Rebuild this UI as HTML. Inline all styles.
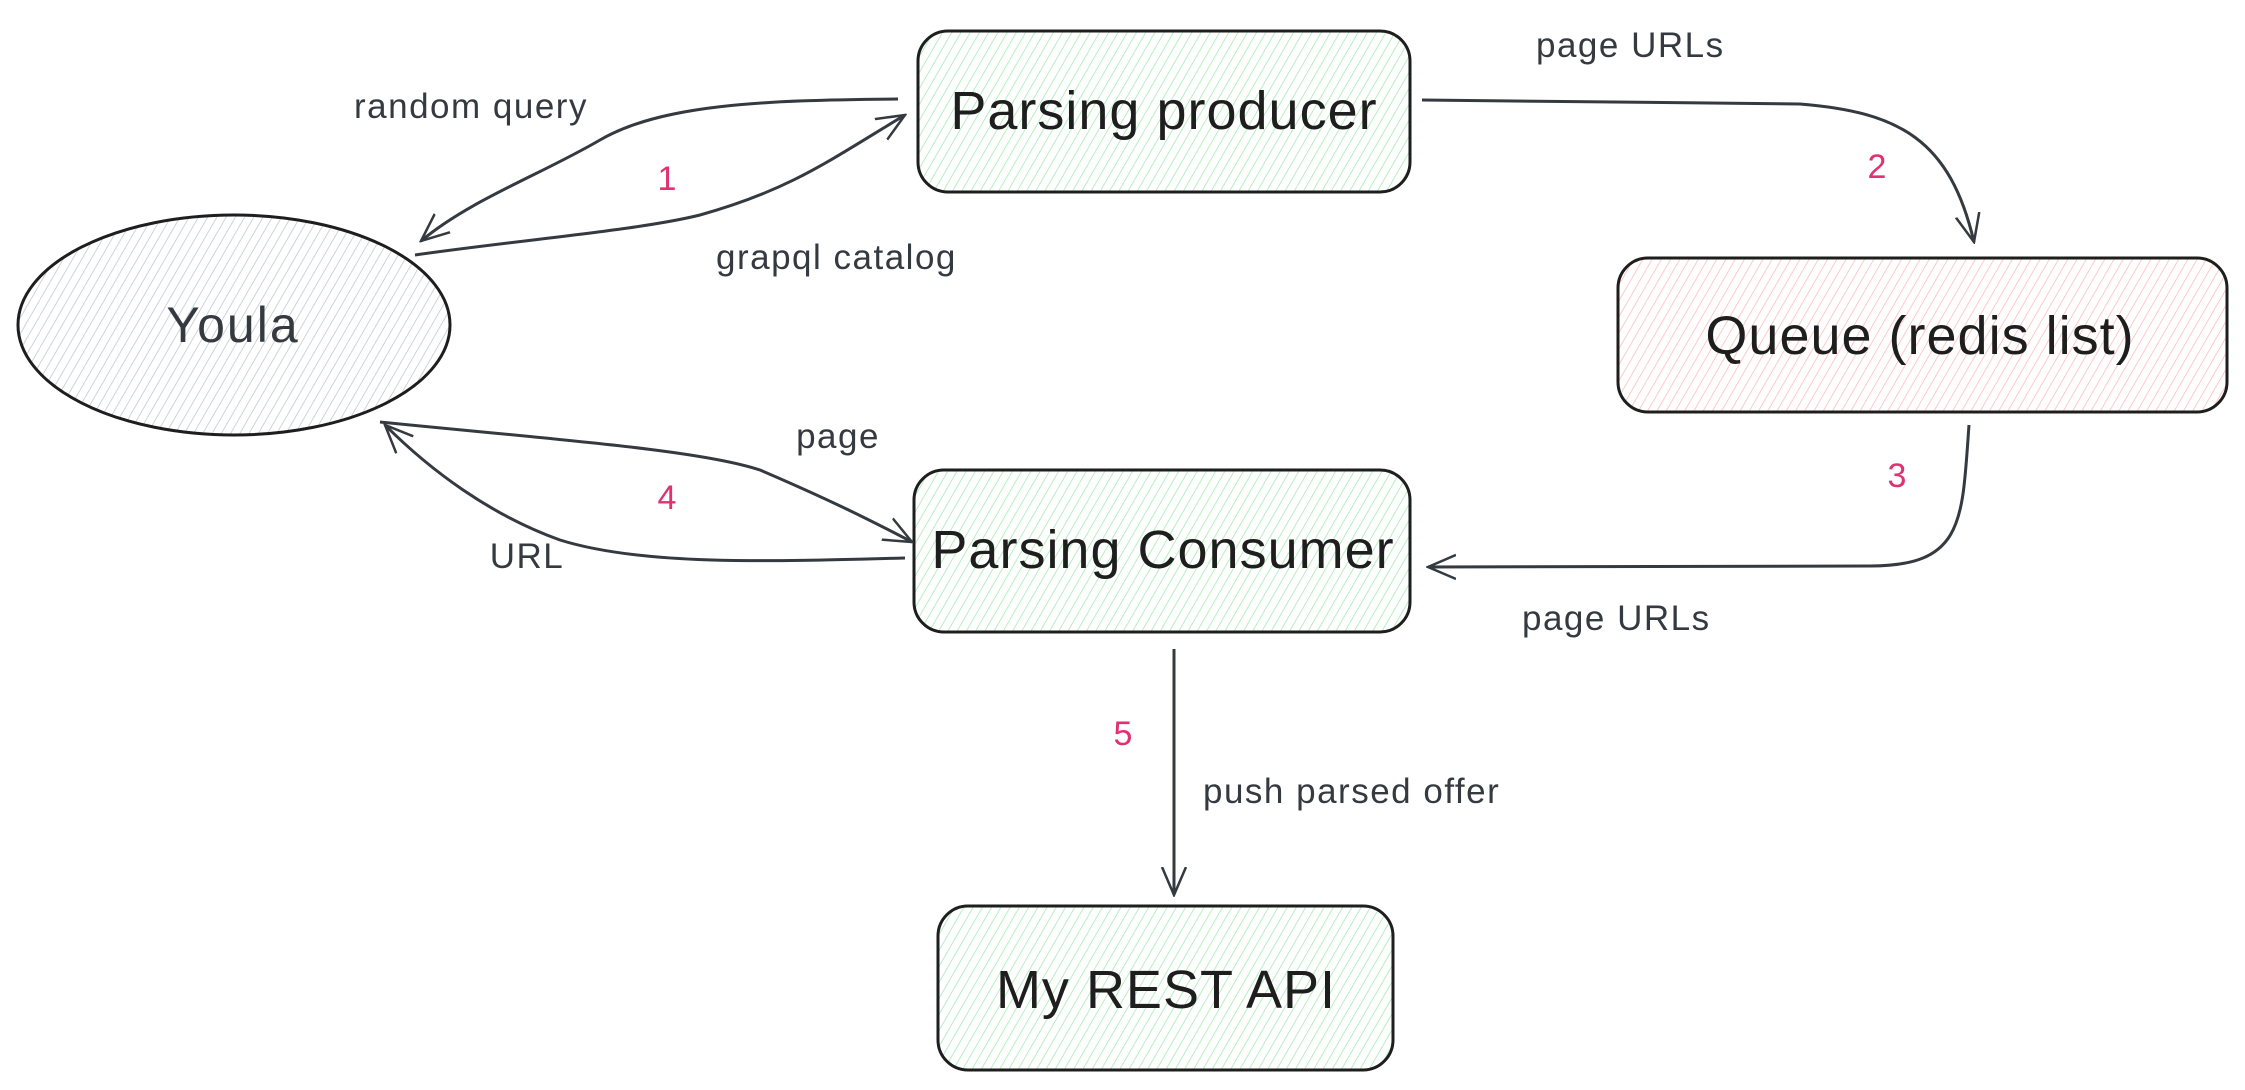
<!DOCTYPE html>
<html><head><meta charset="utf-8"><style>
html,body{margin:0;padding:0;background:#fff;}
svg{display:block;}
text{font-family:"Liberation Sans",sans-serif;fill:#1e1e1e;}
.lbl{font-size:35px;fill:#343a40;letter-spacing:1.5px;}
.num{font-size:34px;fill:#e03170;}
.big{font-size:54px;letter-spacing:1px;}
</style></head><body>
<svg width="2245" height="1090" viewBox="0 0 2245 1090" xmlns="http://www.w3.org/2000/svg">
<defs>
<pattern id="hg" width="8" height="8" patternUnits="userSpaceOnUse" patternTransform="rotate(30)"><line x1="0" y1="0" x2="0" y2="8" stroke="#a3ecae" stroke-width="1.6"/></pattern>
<pattern id="hr" width="8" height="8" patternUnits="userSpaceOnUse" patternTransform="rotate(30)"><line x1="0" y1="0" x2="0" y2="8" stroke="#ffbcbc" stroke-width="1.6"/></pattern>
<pattern id="hy" width="8" height="8" patternUnits="userSpaceOnUse" patternTransform="rotate(30)"><line x1="0" y1="0" x2="0" y2="8" stroke="#c3c9cf" stroke-width="1.6"/></pattern>
<marker id="ar" viewBox="0 0 30 30" refX="28" refY="15" markerWidth="30" markerHeight="30" markerUnits="userSpaceOnUse" orient="auto">
<path d="M0,3 L28,15 L0,27" fill="none" stroke="#343a40" stroke-width="2.5"/></marker>
</defs>
<g stroke="#1e1e1e" stroke-width="3">
<rect x="918" y="31" width="492" height="161" rx="30" fill="url(#hg)"/>
<rect x="1618" y="258" width="609" height="154" rx="30" fill="url(#hr)"/>
<rect x="914" y="470" width="496" height="162" rx="30" fill="url(#hg)"/>
<rect x="938" y="906" width="455" height="164" rx="30" fill="url(#hg)"/>
<ellipse cx="234" cy="325" rx="216" ry="110" fill="url(#hy)"/>
</g>
<g fill="none" stroke="#343a40" stroke-width="3" marker-end="url(#ar)">
<path d="M898,99 C760,100 660,105 600,140 C540,175 470,200 421,241"/>
<path d="M415,255 C520,240 640,230 700,215 C790,190 830,160 905,115"/>
<path d="M1422,100 L1800,104 C1900,112 1950,140 1974,242"/>
<path d="M1969,425 C1962,520 1965,566 1870,566 L1428,567"/>
<path d="M380,422 C560,440 700,450 760,470 C830,500 870,520 912,542"/>
<path d="M905,558 C760,562 640,565 560,540 C490,515 430,470 385,425"/>
<path d="M1174,649 L1174,895"/>
</g>
<text class="big" x="1164" y="129" text-anchor="middle">Parsing producer</text>
<text class="big" x="1920" y="354" text-anchor="middle">Queue (redis list)</text>
<text class="big" x="1163" y="568" text-anchor="middle">Parsing Consumer</text>
<text class="big" x="1166" y="1008" text-anchor="middle">My REST API</text>
<text x="233" y="342" text-anchor="middle" style="font-size:50px;fill:#343a40;letter-spacing:2px">Youla</text>
<text class="lbl" x="354" y="118">random query</text>
<text class="num" x="667" y="190" text-anchor="middle">1</text>
<text class="lbl" x="716" y="269">grapql catalog</text>
<text class="lbl" x="1536" y="57">page URLs</text>
<text class="num" x="1877" y="178" text-anchor="middle">2</text>
<text class="num" x="1897" y="487" text-anchor="middle">3</text>
<text class="lbl" x="838" y="448" text-anchor="middle">page</text>
<text class="num" x="667" y="509" text-anchor="middle">4</text>
<text class="lbl" x="527" y="568" text-anchor="middle">URL</text>
<text class="lbl" x="1522" y="630">page URLs</text>
<text class="num" x="1123" y="745" text-anchor="middle">5</text>
<text class="lbl" x="1203" y="803">push parsed offer</text>
</svg>
</body></html>
